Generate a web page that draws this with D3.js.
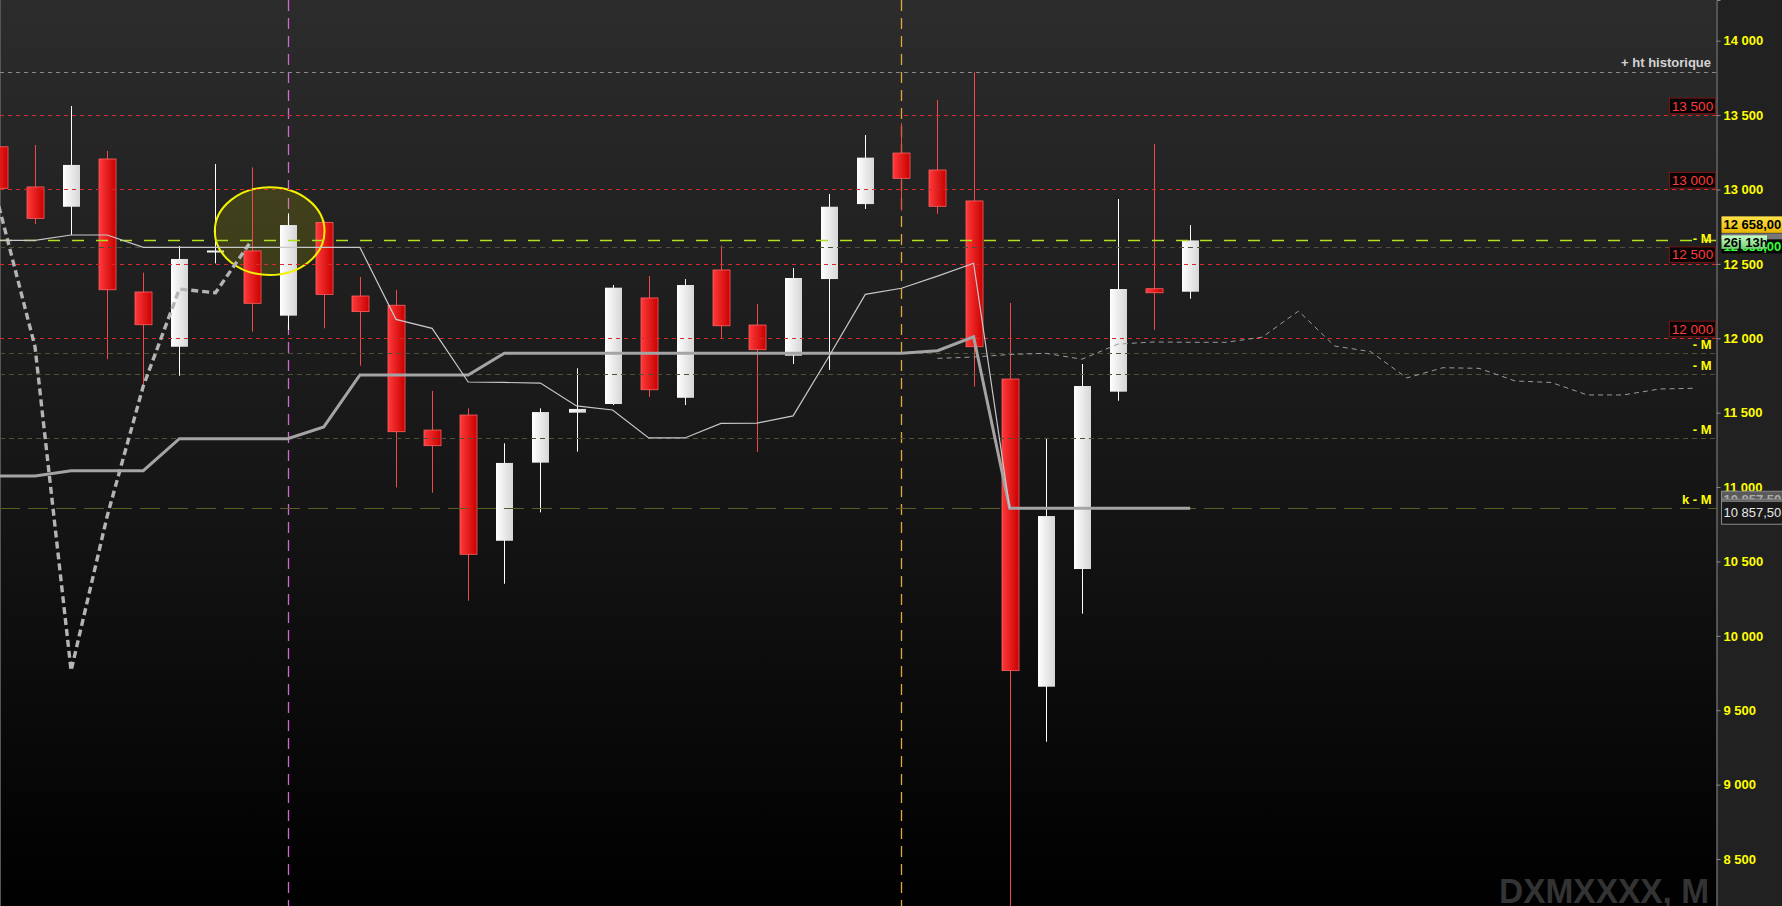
<!DOCTYPE html>
<html><head><meta charset="utf-8">
<script src="https://cdn.jsdelivr.net/npm/d3@7"></script>
<style>
html,body{margin:0;padding:0;background:#000;overflow:hidden}
svg{display:block}
text{font-family:"Liberation Sans",Arial,sans-serif}
</style>
</head><body>
<svg id="c" width="1782" height="906"></svg>
<script>
// ---------------- DATA ----------------
const openP  = [13287,13017,12884,13205,12311,11943,12589,12587,12152,12779,12284,12222,11383,11484,10639,11164,11500,11558,12271,11600,12459,12089,11883,12398,12902,13245,13131,12923,11726, 9658,10449,11641,12333,12313];
const highP  = [13350,13299,13561,13259,12441,12620,13171,13149,12840,12790,12412,12324,11646,11529,11294,11529,11798,12358,12418,12398,12622,12230,12472,12970,13366,13445,13601,13788,12237,11328,11827,12936,13306,12761];
const lowP   = [12950,12768,12694,11859,11672,11748,12503,12044,12056,12067,11816,10998,10962,10236,10350,10830,11238,11551,11605,11551,12000,11236,11827,11787,12869,12857,12837,11675, 8150, 9288,10149,11580,12056,12266];
const closeP = [13008,12806,13165,12326,12091,12533,12590,12235,12761,12295,12179,11372,11278,10548,11162,11504,11525,12340,11654,12358,12084,11923,12405,12884,13214,13075,12887,11943, 9766,10805,11679,12331,12306,12658];

// indicator lines (period index starts at 0 unless stated)
const tenkan = [12658,12658,12694,12694,12611,12611,12611,12611,12611,12611,12611,12127,12067,11706,11703,11699,11545,11518,11330,11330,11428,11430,11478,11881,12295,12336,12418,12504,10857.5];
const kijun  = [11074,11074,11110,11110,11110,11325,11325,11325,11325,11404,11753,11753,11753,11753,11899,11899,11899,11899,11899,11899,11899,11899,11899,11899,11899,11899,11916,12010,10857.5,10857.5,10857.5,10857.5,10857.5,10857.5];
const chikou = [12887,11943,9766,10805,11679,12331,12306,12658];
const senkouStart = 26;
const senkou = [11865,11874,11891,11899,11859,11961,11975,11973,11973,12008,12183,11948,11910,11733,11802,11798,11713,11703,11619,11619,11659,11664];

const lastIndex = 47;
const yTicks = [8500,9000,9500,10000,10500,11000,11500,12000,12500,13000,13500,14000];
const redLevels = [12000,12500,13000,13500];
const histHigh = 13788;
const histLabel = "+ ht historique";
const mLevels = [12615,11899,11758,11332];
const kLevel = 10857.5;
const lastPrice = 12658;
const countdown = "26j 13h";
const magentaIdx = 8;
const goldIdx = 25;
const circleIdx = 7.5, circleVal = 12720;
const watermark = "DXMXXXX, M";

// ---------------- LAYOUT ----------------
const W = 1782, H = 906, plotR = 1716.5;
const svg = d3.select('#c');
const x = d3.scaleLinear().domain([0, lastIndex]).range([-1.1, 1695.6]);
const y = d3.scaleLinear().domain([8184.1, 14273.6]).range([H, 0]);
const loc = d3.formatLocale({decimal:",", thousands:"\u00a0", grouping:[3], currency:["","€"]});
const fmtTick = loc.format(",d"), fmt2 = loc.format(",.2f");
const px = v => Math.round(v) + 0.5;

const defs = svg.append('defs');
const bg = defs.append('linearGradient').attr('id','bg').attr('x1',0).attr('y1',0).attr('x2',0).attr('y2',1);
bg.append('stop').attr('offset','0%').attr('stop-color','#2c2c2c');
bg.append('stop').attr('offset','55%').attr('stop-color','#151515');
bg.append('stop').attr('offset','100%').attr('stop-color','#000');
const gR = defs.append('linearGradient').attr('id','gR');
gR.append('stop').attr('offset','0%').attr('stop-color','#ff3a3a');
gR.append('stop').attr('offset','100%').attr('stop-color','#c80000');
const gW = defs.append('linearGradient').attr('id','gW');
gW.append('stop').attr('offset','0%').attr('stop-color','#ffffff');
gW.append('stop').attr('offset','100%').attr('stop-color','#d6d6d6');
const gY = defs.append('linearGradient').attr('id','gY').attr('x1',0).attr('y1',0).attr('x2',0).attr('y2',1);
gY.append('stop').attr('offset','0%').attr('stop-color','#ffe34a');
gY.append('stop').attr('offset','100%').attr('stop-color','#e8b400');
const gG = defs.append('linearGradient').attr('id','gG').attr('x1',0).attr('y1',0).attr('x2',0).attr('y2',1);
gG.append('stop').attr('offset','0%').attr('stop-color','#c8ffc8');
gG.append('stop').attr('offset','100%').attr('stop-color','#70d070');

// backgrounds
svg.append('rect').attr('x',0).attr('y',0).attr('width',plotR).attr('height',H).attr('fill','url(#bg)');
svg.append('rect').attr('x',plotR).attr('y',0).attr('width',W-plotR).attr('height',H).attr('fill','#212121');
svg.append('line').attr('x1',0.5).attr('x2',0.5).attr('y1',0).attr('y2',H).attr('stroke','#555');

// watermark
svg.append('text').attr('x',1709).attr('y',903).attr('text-anchor','end')
  .attr('font-size',35).attr('font-weight','bold').attr('fill','#333333')
  .attr('textLength',210).attr('lengthAdjust','spacingAndGlyphs').text(watermark);

// vertical markers
[[magentaIdx,'#d466d4'],[goldIdx,'#e0a838']].forEach(([i,c])=>{
  svg.append('line').attr('x1',px(x(i))).attr('x2',px(x(i))).attr('y1',0).attr('y2',H)
    .attr('stroke',c).attr('stroke-width',1.3).attr('stroke-dasharray','11,7');
});

// highlight ellipse (fill below candles)
const ecx = x(circleIdx), ecy = y(circleVal), erx = x(circleIdx+1.52)-x(circleIdx), ery = y(circleVal)-y(circleVal+295);
svg.append('ellipse').attr('cx',ecx).attr('cy',ecy).attr('rx',erx).attr('ry',ery)
  .attr('fill','rgba(220,220,0,0.16)');

// candles
const bw = 17;
const cg = svg.append('g').selectAll('g').data(d3.range(openP.length)).join('g');
cg.append('line')
  .attr('x1',i=>px(x(i))).attr('x2',i=>px(x(i)))
  .attr('y1',i=>y(highP[i])).attr('y2',i=>Math.min(H,y(lowP[i])))
  .attr('stroke',i=>closeP[i]>=openP[i]?'#ffffff':'#ee4a4a').attr('stroke-width',1);
cg.append('rect')
  .attr('x',i=>Math.round(x(i))-bw/2+0.5)
  .attr('width',bw)
  .attr('y',i=>y(Math.max(openP[i],closeP[i])))
  .attr('height',i=>Math.max(2,Math.abs(y(openP[i])-y(closeP[i]))))
  .attr('fill',i=>closeP[i]>=openP[i]?'url(#gW)':'url(#gR)')
  .attr('stroke',i=>closeP[i]>=openP[i]?'none':'#ff6060').attr('stroke-width',0.8);

// ellipse outline on top
svg.append('ellipse').attr('cx',ecx).attr('cy',ecy).attr('rx',erx).attr('ry',ery)
  .attr('fill','none').attr('stroke','#f2f200').attr('stroke-width',2);

// horizontal levels
const hline = (v,c,dash,w)=> svg.append('line').attr('x1',0).attr('x2',plotR).attr('y1',px(y(v))).attr('y2',px(y(v)))
  .attr('stroke',c).attr('stroke-width',w||1).attr('stroke-dasharray',dash);
hline(histHigh,'#8a8a8a','4,4');
mLevels.forEach(v=>hline(v,'#50503a','5,4'));
hline(kLevel,'#5c5c26','20,8');
redLevels.forEach(v=>hline(v,'#d82a2a','4,4'));
hline(lastPrice,'#b0e020','12,12',1.5);

// indicator lines
const ln = d3.line().x(d=>x(d[0])).y(d=>y(d[1]));
svg.append('path').attr('d',ln(chikou.map((v,i)=>[i,v]))).attr('fill','none')
  .attr('stroke','#b4b4b4').attr('stroke-width',3.4).attr('stroke-dasharray','7,4');
svg.append('path').attr('d',ln(senkou.map((v,i)=>[i+senkouStart,v]))).attr('fill','none')
  .attr('stroke','#9a9a9a').attr('stroke-width',1).attr('stroke-dasharray','5,4');
svg.append('path').attr('d',ln(kijun.map((v,i)=>[i,v]))).attr('fill','none')
  .attr('stroke','#a4a4a4').attr('stroke-width',3);
svg.append('path').attr('d',ln(tenkan.map((v,i)=>[i,v]))).attr('fill','none')
  .attr('stroke','#c8c8c8').attr('stroke-width',1.2);

// level labels
svg.append('text').attr('x',1711).attr('y',y(histHigh)-5).attr('text-anchor','end')
  .attr('font-size',13).attr('font-weight','bold').attr('fill','#d4d4d4').text(histLabel);
redLevels.forEach(v=>{
  const yy = y(v);
  svg.append('rect').attr('x',1669.5).attr('y',yy-17).attr('width',46).attr('height',15.5)
    .attr('fill','#050505').attr('stroke','#7a1212').attr('stroke-width',1);
  svg.append('text').attr('x',1692.5).attr('y',yy-4.5).attr('text-anchor','middle')
    .attr('font-size',13.5).attr('fill','#ff3a3a').text(fmtTick(v));
});
[lastPrice].concat(mLevels).forEach((v,k)=>{
  if(k===0) return;
  svg.append('text').attr('x',1711.5).attr('y',y(v)-4).attr('text-anchor','end')
    .attr('font-size',13).attr('font-weight','bold').attr('fill','#ffff00').text('- M');
});
svg.append('text').attr('x',1711.5).attr('y',y(kLevel)-4).attr('text-anchor','end')
  .attr('font-size',13).attr('font-weight','bold').attr('fill','#ffff00').text('k - M');

// right axis
const ax = svg.append('g').attr('transform',`translate(${plotR},0)`)
  .call(d3.axisRight(y).tickValues(yTicks).tickSize(4).tickPadding(3).tickFormat(fmtTick));
ax.select('.domain').attr('stroke','#8a8a8a');
ax.selectAll('.tick line').attr('stroke','#8a8a8a');
ax.selectAll('.tick text').attr('fill','#ffff00').attr('font-size',13).attr('font-weight','bold')
  .attr('font-family','"Liberation Sans",Arial,sans-serif');

// price tags on axis
const tag = (yTop,h,w,fill,stroke,txt,tc,bold)=>{
  svg.append('rect').attr('x',1721.5).attr('y',yTop).attr('width',w).attr('height',h)
    .attr('fill',fill).attr('stroke',stroke||'none');
  svg.append('text').attr('x',1723.5).attr('y',yTop+h/2+4.6).attr('font-size',13)
    .attr('font-weight',bold?'bold':'normal').attr('fill',tc).text(txt);
};
tag(y(lastPrice)-24,16.5,70,'url(#gY)',null,fmt2(lastPrice),'#000',true);
tag(y(lastPrice)-7,8.5,70,'#777',null,'','#aaa',true);
tag(y(lastPrice)-1,14,70,'#050505',null,fmt2(lastPrice),'#33ff33',true);
tag(y(lastPrice)-5,13.5,45.5,'url(#gG)',null,countdown,'#000',true);

tag(y(kLevel)-17,16,70,'#5a5a5a','#888',fmt2(kLevel),'#aaaaaa',true);
tag(y(kLevel)-9,16,70,'#5a5a5a','#888',fmt2(kLevel),'#aaaaaa',true);
tag(y(kLevel)-7,23,70,'#1a1a1a','#8a8a8a',fmt2(kLevel),'#e8e8e8',false);
</script>
</body></html>
